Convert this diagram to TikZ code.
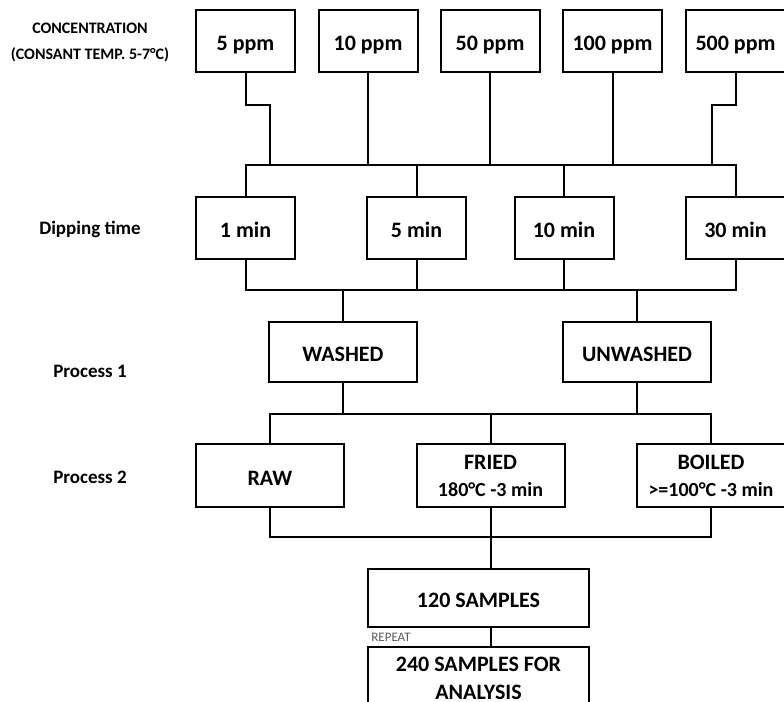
\documentclass[tikz,border=0pt]{standalone}
\usepackage{fontspec}
\setmainfont{Carlito}
\usepackage{tikz}

\tikzset{
  box/.style={draw, line width=1pt, minimum width=49.5pt, minimum height=31pt,
    inner sep=0pt, align=center, font=\bfseries\fontsize{11}{14}\selectfont},
  onerow/.style={text height=9.5pt, text depth=0pt},
  widebox/.style={box, minimum width=74pt},
  samplebox/.style={box, minimum width=110.5pt},
  rowlabel/.style={align=center, font=\bfseries\fontsize{9.5}{12}\selectfont},
  link/.style={line width=1pt}
}

\begin{document}
\begin{tikzpicture}[x=0.5pt, y=-0.5pt]
  \useasboundingbox (0,0) rectangle (784,702);

  % row labels
  \node[rowlabel, font=\bfseries\fontsize{8}{13}\selectfont] (conc) at (90,42) {CONCENTRATION\\(CONSANT TEMP. 5-7°C)};
  \node[rowlabel] (dip)   at (90,229) {Dipping time};
  \node[rowlabel] (proc1) at (90,371) {Process 1};
  \node[rowlabel] (proc2) at (90,477) {Process 2};

  % concentrations
  \node[box, onerow] (c5)   at (245.5,41) {5 ppm};
  \node[box, onerow] (c10)  at (368,41)   {10 ppm};
  \node[box, onerow] (c50)  at (490,41)   {50 ppm};
  \node[box, onerow] (c100) at (612.5,41) {100 ppm};
  \node[box, onerow] (c500) at (735.5,41) {500 ppm};

  % dipping times
  \node[box, onerow] (d1)  at (245.5,228) {1 min};
  \node[box, onerow] (d5)  at (416.5,228) {5 min};
  \node[box, onerow] (d10) at (564,228)   {10 min};
  \node[box, onerow] (d30) at (735.5,228) {30 min};

  % process 1
  \node[widebox, onerow, minimum height=30pt] (wash)   at (343,352) {WASHED};
  \node[widebox, onerow, minimum height=30pt] (unwash) at (637,352) {UNWASHED};

  % process 2
  \node[widebox, onerow, minimum height=31.5pt] (raw) at (270,475.5) {RAW};
  \node[widebox, minimum height=31.5pt, font=\bfseries\fontsize{11}{13.5}\selectfont] (fried)  at (490.5,475.5) {FRIED\\{\fontsize{10}{13.5}\selectfont 180°C -3 min}};
  \node[widebox, minimum height=31.5pt, font=\bfseries\fontsize{11}{13.5}\selectfont] (boiled) at (711,475.5)   {BOILED\\{\fontsize{10}{13.5}\selectfont >=100°C -3 min}};

  % samples
  \node[samplebox, onerow, minimum height=29pt] (s120) at (478.5,598) {120 SAMPLES};
  \node[samplebox, minimum height=31pt] (s240) at (478.5,678) {240 SAMPLES FOR\\ANALYSIS};
  \node[anchor=west, inner sep=0pt, text=black!65, font=\fontsize{6.5}{8}\selectfont] (rep) at (371,637) {REPEAT};

  % connectors
  \coordinate (j5)   at (270,165);
  \coordinate (j500) at (712,165);
  \coordinate (j2)   at (0,290);
  \coordinate (j3)   at (0,414);
  \coordinate (j4)   at (0,537);

  \draw[link] (c5.south) -- ++(0,32) -| (j5);
  \draw[link] (c500.south) -- ++(0,32) -| (j500);
  \draw[link] (c10.south) -- (c10.south |- j5);
  \draw[link] (c50.south) -- (c50.south |- j5);
  \draw[link] (c100.south) -- (c100.south |- j5);

  \draw[link] (d1.north) -- (d1.north |- j5) -- (d30.north |- j5) -- (d30.north);
  \draw[link] (d5.north) -- (d5.north |- j5);
  \draw[link] (d10.north) -- (d10.north |- j5);

  \draw[link] (d1.south) -- (d1.south |- j2) -- (d30.south |- j2) -- (d30.south);
  \draw[link] (d5.south) -- (d5.south |- j2);
  \draw[link] (d10.south) -- (d10.south |- j2);
  \draw[link] (wash.north) -- (wash.north |- j2);
  \draw[link] (unwash.north) -- (unwash.north |- j2);

  \draw[link] (raw.north) -- (raw.north |- j3) -- (boiled.north |- j3) -- (boiled.north);
  \draw[link] (fried.north) -- (fried.north |- j3);
  \draw[link] (wash.south) -- (wash.south |- j3);
  \draw[link] (unwash.south) -- (unwash.south |- j3);

  \draw[link] (raw.south) -- (raw.south |- j4) -- (boiled.south |- j4) -- (boiled.south);
  \draw[link] (fried.south) -- (fried.south |- s120.north);
  \draw[link] (fried.south |- s120.south) -- (fried.south |- s240.north);
\end{tikzpicture}
\end{document}
